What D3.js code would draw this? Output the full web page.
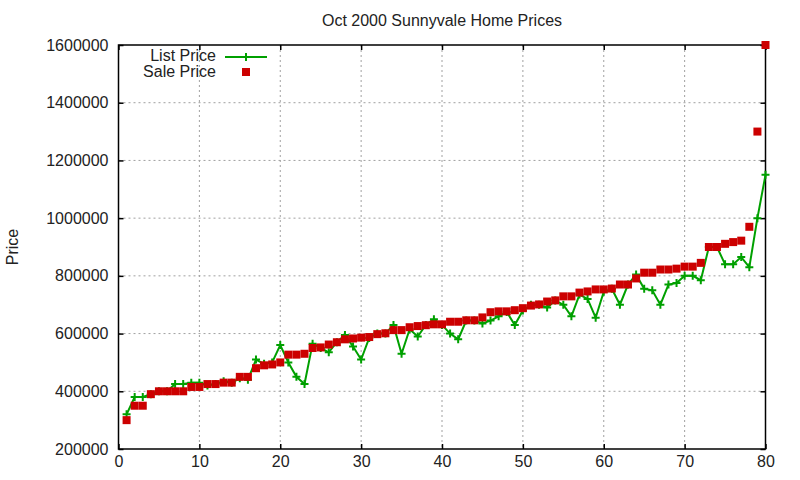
<!DOCTYPE html>
<html>
<head>
<meta charset="utf-8">
<script src="https://cdn.jsdelivr.net/npm/d3@7"></script>
<style>
  body { margin: 0; background: #fff; }
  svg { font-family: "Liberation Sans", Arial, sans-serif; }
  .axis path, .axis line { stroke: #000; stroke-width: 1.5; }
  .axis text { font-size: 16px; fill: #222; }
  .grid line { stroke: #a0a0a0; stroke-width: 1; stroke-dasharray: 2,3; }
  .legend-text, .y-label, .title { fill: #222; }
</style>
</head>
<body>
<svg id="chart"></svg>
<script>
// house index (x) of each sale
const houses = d3.range(1, 81);

const listPrice = [
  320000, 380000, 380000, 390000, 400000, 400000, 425000, 425000, 430000, 430000,
  420000, 425000, 435000, 430000, 445000, 440000, 510000, 495000, 500000, 560000,
  500000, 450000, 425000, 565000, 550000, 535000, 570000, 595000, 555000, 510000,
  585000, 600000, 600000, 630000, 530000, 615000, 590000, 630000, 650000, 630000,
  600000, 580000, 645000, 645000, 635000, 645000, 660000, 675000, 630000, 680000,
  700000, 700000, 690000, 715000, 700000, 660000, 735000, 720000, 655000, 745000,
  755000, 700000, 770000, 805000, 755000, 750000, 700000, 770000, 775000, 800000,
  800000, 785000, 900000, 900000, 840000, 840000, 865000, 830000, 1000000, 1150000
];

const salePrice = [
  300000, 350000, 350000, 390000, 400000, 400000, 400000, 400000, 415000, 415000,
  425000, 425000, 430000, 430000, 450000, 450000, 480000, 490000, 493000, 500000,
  527000, 527000, 530000, 550000, 552000, 562000, 570000, 580000, 583000, 586000,
  588000, 598000, 601000, 612000, 612000, 622000, 626000, 629000, 632000, 632000,
  641000, 641000, 646000, 646000, 656000, 674000, 677000, 677000, 681000, 688000,
  697000, 701000, 711000, 715000, 729000, 729000, 742000, 746000, 753000, 753000,
  756000, 770000, 770000, 791000, 811000, 811000, 822000, 822000, 825000, 832000,
  832000, 845000, 900000, 900000, 911000, 917000, 922000, 970000, 1300000, 1600000
];

const xTicks = [0, 10, 20, 30, 40, 50, 60, 70, 80];
const yTicks = [200000, 400000, 600000, 800000, 1000000, 1200000, 1400000, 1600000];

const titleText = 'Oct 2000 Sunnyvale Home Prices';
const seriesNames = ['List Price', 'Sale Price'];

const listColor = '#00a000';
const saleColor = '#cc0000';

class PriceChart {
  constructor(_config) {
    this.config = {
      parentElement: _config.parentElement,
      containerWidth: 800,
      containerHeight: 480,
      margin: {top: 45, right: 34.5, bottom: 31, left: 118.5}
    };
    this.initVis();
  }

  initVis() {
    let vis = this;
    const m = vis.config.margin;
    vis.width = vis.config.containerWidth - m.left - m.right;
    vis.height = vis.config.containerHeight - m.top - m.bottom;

    vis.xScale = d3.scaleLinear().domain([0, 80]).range([0, vis.width]);
    vis.yScale = d3.scaleLinear().domain([200000, 1600000]).range([vis.height, 0]);

    vis.svg = d3.select(vis.config.parentElement)
      .attr('width', vis.config.containerWidth)
      .attr('height', vis.config.containerHeight);

    vis.chart = vis.svg.append('g')
      .attr('transform', `translate(${m.left},${m.top})`);

    // dotted grid, inner ticks only
    vis.chart.append('g')
      .attr('class', 'grid')
      .selectAll('line')
      .data(xTicks.slice(1, -1))
      .join('line')
      .attr('x1', d => vis.xScale(d)).attr('x2', d => vis.xScale(d))
      .attr('y1', 0).attr('y2', vis.height);

    vis.chart.append('g')
      .attr('class', 'grid')
      .selectAll('line')
      .data(yTicks.slice(1, -1))
      .join('line')
      .attr('x1', 0).attr('x2', vis.width)
      .attr('y1', d => vis.yScale(d)).attr('y2', d => vis.yScale(d));

    // axes with inward ticks, mirrored on top/right
    vis.chart.append('g')
      .attr('class', 'axis x-axis')
      .attr('transform', `translate(0,${vis.height})`)
      .call(d3.axisBottom(vis.xScale).tickValues(xTicks).tickSize(-5).tickPadding(7).tickSizeOuter(0));

    vis.chart.append('g')
      .attr('class', 'axis')
      .call(d3.axisTop(vis.xScale).tickValues(xTicks).tickSize(-5).tickFormat('').tickSizeOuter(0));

    vis.chart.append('g')
      .attr('class', 'axis y-axis')
      .call(d3.axisLeft(vis.yScale).tickValues(yTicks).tickSize(-5).tickPadding(10)
        .tickFormat(d3.format('d')).tickSizeOuter(0));

    vis.chart.append('g')
      .attr('class', 'axis')
      .attr('transform', `translate(${vis.width},0)`)
      .call(d3.axisRight(vis.yScale).tickValues(yTicks).tickSize(-5).tickFormat('').tickSizeOuter(0));

    vis.chart.selectAll('.axis .domain').remove();
    vis.chart.append('rect')
      .attr('width', vis.width).attr('height', vis.height)
      .attr('fill', 'none').attr('stroke', '#000').attr('stroke-width', 1.5);

    vis.svg.append('text')
      .attr('class', 'title')
      .attr('x', m.left + vis.width / 2)
      .attr('y', 26)
      .attr('text-anchor', 'middle')
      .style('font-size', '16px')
      .text(titleText);

    vis.svg.append('text')
      .attr('class', 'y-label')
      .attr('transform', `translate(18,${m.top + vis.height / 2}) rotate(-90)`)
      .attr('text-anchor', 'middle')
      .style('font-size', '16px')
      .text('Price');

    vis.renderVis();
  }

  renderVis() {
    let vis = this;
    const data = houses.map((h, i) => ({x: h, list: listPrice[i], sale: salePrice[i]}));

    const line = d3.line()
      .x(d => vis.xScale(d.x))
      .y(d => vis.yScale(d.list));

    vis.chart.append('path')
      .datum(data)
      .attr('fill', 'none')
      .attr('stroke', listColor)
      .attr('stroke-width', 2)
      .attr('d', line);

    vis.chart.selectAll('.list-mark')
      .data(data)
      .join('path')
      .attr('class', 'list-mark')
      .attr('transform', d => `translate(${vis.xScale(d.x)},${vis.yScale(d.list)})`)
      .attr('d', 'M-4,0H4M0,-4V4')
      .attr('stroke', listColor)
      .attr('stroke-width', 2);

    vis.chart.selectAll('.sale-mark')
      .data(data)
      .join('rect')
      .attr('class', 'sale-mark')
      .attr('x', d => vis.xScale(d.x) - 4)
      .attr('y', d => vis.yScale(d.sale) - 4)
      .attr('width', 8)
      .attr('height', 8)
      .attr('fill', saleColor);

    // legend
    const legend = vis.svg.append('g');
    legend.append('text').attr('class', 'legend-text')
      .attr('x', 216).attr('y', 61).attr('text-anchor', 'end')
      .style('font-size', '16px').text(seriesNames[0]);
    legend.append('line')
      .attr('x1', 225).attr('x2', 267).attr('y1', 57).attr('y2', 57)
      .attr('stroke', listColor).attr('stroke-width', 2);
    legend.append('path')
      .attr('transform', 'translate(246,57)')
      .attr('d', 'M-4,0H4M0,-4V4')
      .attr('stroke', listColor).attr('stroke-width', 2);
    legend.append('text').attr('class', 'legend-text')
      .attr('x', 216).attr('y', 77).attr('text-anchor', 'end')
      .style('font-size', '16px').text(seriesNames[1]);
    legend.append('rect')
      .attr('x', 242).attr('y', 68).attr('width', 8).attr('height', 8)
      .attr('fill', saleColor);
  }
}

new PriceChart({parentElement: '#chart'});
</script>
</body>
</html>
